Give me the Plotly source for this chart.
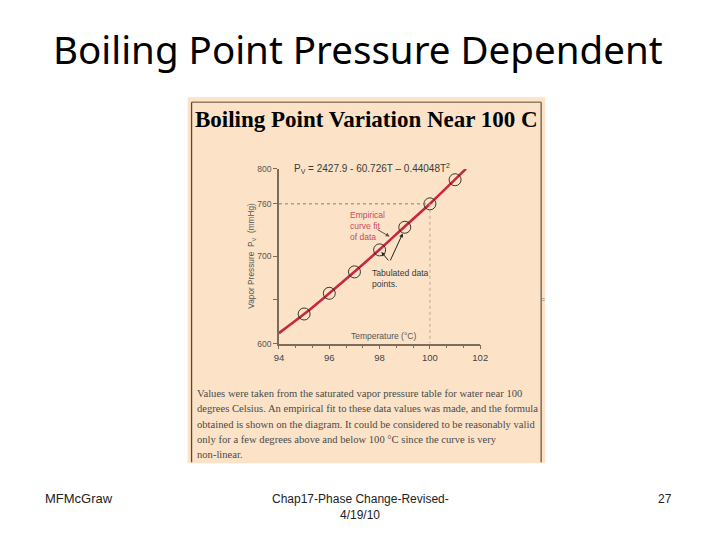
import plotly.graph_objects as go

# ---- data ----
temps_data = [95, 96, 97, 98, 99, 100, 101]
press_data = [633.9, 657.6, 682.1, 707.3, 733.2, 760.0, 787.6]

temps_curve = [94, 95, 96, 97, 98, 99, 100, 101, 101.43]
press_curve = [612.0, 633.8, 657.6, 682.2, 707.7, 734.1, 760.1, 788.0, 800.0]

x_ticks = [94, 96, 98, 100, 102]
y_ticks = [600, 700, 760, 800]
y_minor_ticks = [650]

para_lines = [
    "Values were taken from the saturated vapor pressure table for water near 100",
    "degrees Celsius. An empirical fit to these data values was made, and the formula",
    "obtained is shown on the diagram. It could be considered to be reasonably valid",
    "only for a few degrees above and below 100 °C since the curve is very",
    "non-linear.",
]

W, H = 720, 540
def px(x):
    return x / W
def py(y):
    return 1 - y / H

PEACH = "#FCE3C7"
AXC = "#7d6c5a"
TXT = "#3a3a3a"

fig = go.Figure()

fig.add_trace(go.Scatter(
    x=temps_curve, y=press_curve, mode="lines",
    line=dict(color="#c8283c", width=2.6, shape="spline"),
    hoverinfo="skip", showlegend=False,
))
fig.add_trace(go.Scatter(
    x=temps_data, y=press_data, mode="markers",
    marker=dict(symbol="circle-open", size=12, color="#222222", line=dict(width=0.9)),
    showlegend=False,
))

shapes = [
    dict(type="rect", xref="paper", yref="paper", x0=px(186), x1=px(550), y0=py(467), y1=py(94),
         fillcolor=PEACH, line=dict(width=0), layer="below"),
    dict(type="line", xref="paper", yref="paper", x0=px(190), x1=px(190), y0=py(466), y1=py(99),
         line=dict(color="#5a4a3c", width=1.3), layer="below"),
    dict(type="line", xref="paper", yref="paper", x0=px(190), x1=px(546), y0=py(99), y1=py(99),
         line=dict(color="#5a4a3c", width=1.0), layer="below"),
    dict(type="line", xref="paper", yref="paper", x0=px(546), x1=px(546), y0=py(466), y1=py(99),
         line=dict(color="#6a5a4c", width=1.3), layer="below"),
    dict(type="line", xref="x", yref="y", x0=94, x1=100, y0=760, y1=760,
         line=dict(color="#8a7a6a", width=1, dash="dot")),
    dict(type="line", xref="x", yref="y", x0=100, x1=100, y0=760, y1=600,
         line=dict(color="#b8a898", width=1, dash="dot")),
]

def A(**kw):
    kw.setdefault("xanchor", "center")
    kw.setdefault("yanchor", "middle")
    kw.setdefault("showarrow", False)
    return kw

ann = []
ann.append(A(text="Boiling Point Pressure Dependent", xref="paper", yref="paper",
             x=px(359), y=py(45),
             font=dict(family="Comic Sans MS, Noto Sans", size=38.5, color="#000000")))
ann.append(A(text="<b>Boiling Point Variation Near 100 C</b>", xref="paper", yref="paper",
             x=px(368), y=py(117),
             font=dict(family="Liberation Serif", size=23, color="#000000")))
ann.append(A(text="P<sub>V</sub> = 2427.9 - 60.726T – 0.44048T<sup>2</sup>", xref="paper", yref="paper",
             x=px(292), y=py(167), xanchor="left",
             font=dict(family="Liberation Sans", size=10, color=TXT)))
ann.append(A(text="Vapor Pressure  P<sub>V</sub>  (mmHg)", xref="paper", yref="paper",
             x=px(251), y=py(255), textangle=-90,
             font=dict(family="Liberation Sans", size=8.3, color="#555555")))
ann.append(A(text="Temperature (°C)", xref="x", yref="y", x=98.14, y=609,
             font=dict(family="Liberation Sans", size=8.5, color="#555555")))
ann.append(A(text="Empirical<br>curve fit<br>of data", xref="x", yref="y", x=96.73, y=735,
             xanchor="left", align="left",
             font=dict(family="Liberation Sans", size=8.5, color="#c84a64")))
ann.append(dict(text="", xref="x", yref="y", axref="x", ayref="y", x=98.40, y=722.5, ax=97.86, ay=731.5,
                showarrow=True, arrowhead=2, arrowsize=0.8, arrowwidth=1, arrowcolor="#555555"))
ann.append(A(text="Tabulated data<br>points.", xref="x", yref="y", x=97.62, y=675,
             xanchor="left", align="left",
             font=dict(family="Liberation Sans", size=8.6, color=TXT)))
ann.append(dict(text="", xref="x", yref="y", axref="x", ayref="y", x=98.07, y=704.8, ax=98.40, ay=693.6,
                showarrow=True, arrowhead=2, arrowsize=0.8, arrowwidth=1, arrowcolor="#222222"))
ann.append(dict(text="", xref="x", yref="y", axref="x", ayref="y", x=98.92, y=726.2, ax=98.40, ay=693.6,
                showarrow=True, arrowhead=2, arrowsize=0.8, arrowwidth=1, arrowcolor="#222222"))
ann.append(A(text="=", xref="paper", yref="paper", x=px(548), y=py(300),
             font=dict(family="Liberation Sans", size=7, color="#777777")))

line_y = [396, 411.5, 427, 442.5, 458]
for t, yy in zip(para_lines, line_y):
    ann.append(A(text=t, xref="paper", yref="paper", x=px(193), y=py(yy), xanchor="left",
                 font=dict(family="Liberation Serif", size=10.6, color="#4a4a4a")))

foot = dict(family="Liberation Sans", size=12, color="#222222")
ann.append(A(text="MFMcGraw", xref="paper", yref="paper", x=px(75), y=py(503),
             font=dict(family="Liberation Sans", size=13, color="#222222")))
ann.append(A(text="Chap17-Phase Change-Revised-", xref="paper", yref="paper", x=px(362), y=py(503), font=foot))
ann.append(A(text="4/19/10", xref="paper", yref="paper", x=px(362), y=py(520), font=foot))
ann.append(A(text="27", xref="paper", yref="paper", x=px(672), y=py(503), font=foot))

fig.update_layout(
    width=W, height=H, autosize=False,
    margin=dict(l=0, r=0, t=0, b=0),
    paper_bgcolor="#ffffff", plot_bgcolor="rgba(0,0,0,0)",
    shapes=shapes, annotations=ann, showlegend=False,
    xaxis=dict(domain=[px(279), px(484)], range=[94, 102], showgrid=False, zeroline=False,
               showline=True, linecolor=AXC, linewidth=1.6, ticks="outside", ticklen=4,
               tickcolor=AXC, tickvals=x_ticks,
               minor=dict(dtick=2/3, tick0=94, ticks="outside", ticklen=3, tickcolor=AXC),
               tickfont=dict(family="Liberation Sans", size=9.5, color="#444444")),
    yaxis=dict(domain=[py(345), py(167)], range=[600, 800], showgrid=False, zeroline=False,
               showline=True, linecolor=AXC, linewidth=1.6, ticks="outside", ticklen=4,
               tickcolor=AXC, tickvals=y_ticks,
               minor=dict(tickmode="array", tickvals=y_minor_ticks, ticks="outside", ticklen=4,
                          tickcolor=AXC),
               tickfont=dict(family="Liberation Sans", size=8.5, color="#555555")),
)

fig.write_html("out.html", config={"displayModeBar": False},
               post_script="document.body.style.margin='0';document.body.style.overflow='hidden';")
